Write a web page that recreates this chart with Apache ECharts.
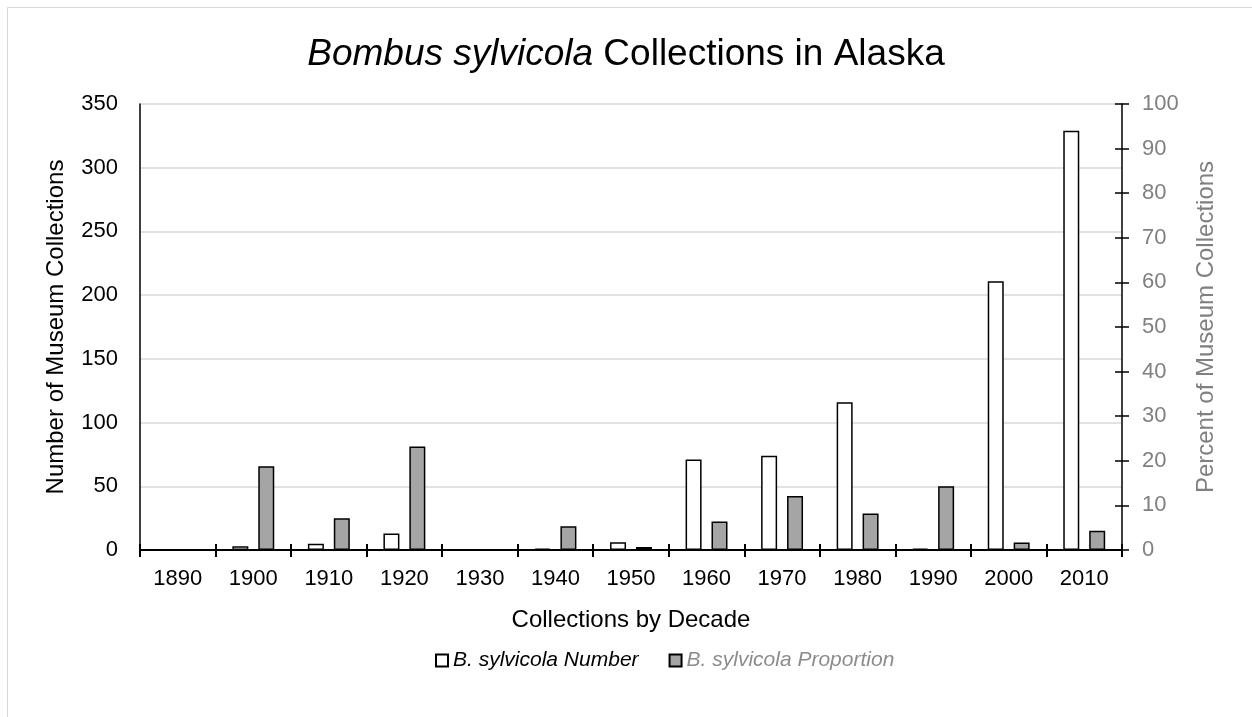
<!DOCTYPE html>
<html>
<head>
<meta charset="utf-8">
<script src="https://cdn.jsdelivr.net/npm/echarts@6/dist/echarts.min.js"></script>
<style>html,body{margin:0;padding:0;background:#fff}#c{width:1252px;height:717px}</style>
</head>
<body>
<div id="c"></div>
<script>
const decades = ['1890','1900','1910','1920','1930','1940','1950','1960','1970','1980','1990','2000','2010'];
const numberValues = [0, 3, 5, 13, 0, 1, 6, 71, 74, 116, 1, 211, 329];
const proportionValues = [0, 18.8, 7.1, 23.2, 0, 5.3, 0.7, 6.4, 12.1, 8.2, 14.3, 1.7, 4.3];
const leftTicks = {min: 0, max: 350, interval: 50};
const rightTicks = {min: 0, max: 100, interval: 10};

const FONT = '"Liberation Sans", Arial, sans-serif';
const chart = echarts.init(document.getElementById('c'));
chart.setOption({
  animation: false,
  backgroundColor: '#fff',
  graphic: [{
    type: 'rect', shape: {x: 7.5, y: 7.5, width: 1300, height: 800},
    style: {fill: 'none', stroke: '#d9d9d9', lineWidth: 1}, silent: true
  }],
  title: {
    text: '{i|Bombus sylvicola} Collections in Alaska',
    left: 'center', top: 31,
    textStyle: {
      fontFamily: FONT, fontSize: 37, fontWeight: 'normal', color: '#000',
      rich: {i: {fontFamily: FONT, fontSize: 37, fontStyle: 'italic', color: '#000'}}
    }
  },
  legend: {
    top: 645, left: 430, itemGap: 30, itemWidth: 12, itemHeight: 12,
    icon: 'rect',
    textStyle: {fontFamily: FONT, fontSize: 21, fontStyle: 'italic', color: '#000'},
    data: [
      {name: 'B. sylvicola Number', textStyle: {color: '#000'}},
      {name: 'B. sylvicola Proportion', textStyle: {color: '#8c8c8c'}}
    ]
  },
  grid: {left: 140, right: 130, top: 104, bottom: 167, containLabel: false},
  xAxis: [{
    type: 'category', data: decades, position: 'bottom',
    name: 'Collections by Decade', nameLocation: 'middle', nameGap: 58,
    nameTextStyle: {fontFamily: FONT, fontSize: 24, color: '#000'},
    axisLine: {lineStyle: {color: '#000', width: 2}},
    axisTick: {show: true, length: 7, lineStyle: {color: '#000', width: 2}},
    axisLabel: {fontFamily: FONT, fontSize: 22, color: '#000', margin: 18}
  }, {
    type: 'category', data: decades, position: 'bottom',
    axisLine: {show: false},
    axisTick: {show: true, inside: true, length: 6, lineStyle: {color: '#000', width: 2}},
    axisLabel: {show: false}
  }],
  yAxis: [{
    type: 'value', position: 'left', min: leftTicks.min, max: leftTicks.max, interval: leftTicks.interval,
    name: 'Number of Museum Collections', nameLocation: 'middle', nameGap: 72,
    nameTextStyle: {fontFamily: FONT, fontSize: 24, color: '#000'},
    axisLine: {show: true, lineStyle: {color: '#000', width: 1.5}},
    axisTick: {show: false},
    axisLabel: {fontFamily: FONT, fontSize: 22, color: '#000', margin: 22},
    splitLine: {show: true, lineStyle: {color: '#d9d9d9', width: 1.5}}
  }, {
    type: 'value', position: 'right', min: rightTicks.min, max: rightTicks.max, interval: rightTicks.interval,
    name: 'Percent of Museum Collections', nameLocation: 'middle', nameGap: 72,
    nameTextStyle: {fontFamily: FONT, fontSize: 24, color: '#808080'},
    axisLine: {show: true, lineStyle: {color: '#000', width: 1.5}},
    axisTick: {show: true, length: 7, lineStyle: {color: '#000', width: 1.5}},
    axisLabel: {fontFamily: FONT, fontSize: 22, color: '#808080', margin: 20},
    splitLine: {show: false}
  }, {
    type: 'value', position: 'right', min: rightTicks.min, max: rightTicks.max, interval: rightTicks.interval,
    axisLine: {show: false},
    axisTick: {show: true, inside: true, length: 7, lineStyle: {color: '#000', width: 1.5}},
    axisLabel: {show: false},
    splitLine: {show: false}
  }],
  series: [{
    name: 'B. sylvicola Number', type: 'bar', xAxisIndex: 0, yAxisIndex: 0,
    data: numberValues, barWidth: 16, barGap: '62%',
    itemStyle: {color: '#ffffff', borderColor: '#000', borderWidth: 1.5}
  }, {
    name: 'B. sylvicola Proportion', type: 'bar', xAxisIndex: 0, yAxisIndex: 1,
    data: proportionValues, barWidth: 16, barGap: '62%',
    itemStyle: {color: '#a5a5a5', borderColor: '#000', borderWidth: 1.5}
  }]
});
</script>
</body>
</html>
